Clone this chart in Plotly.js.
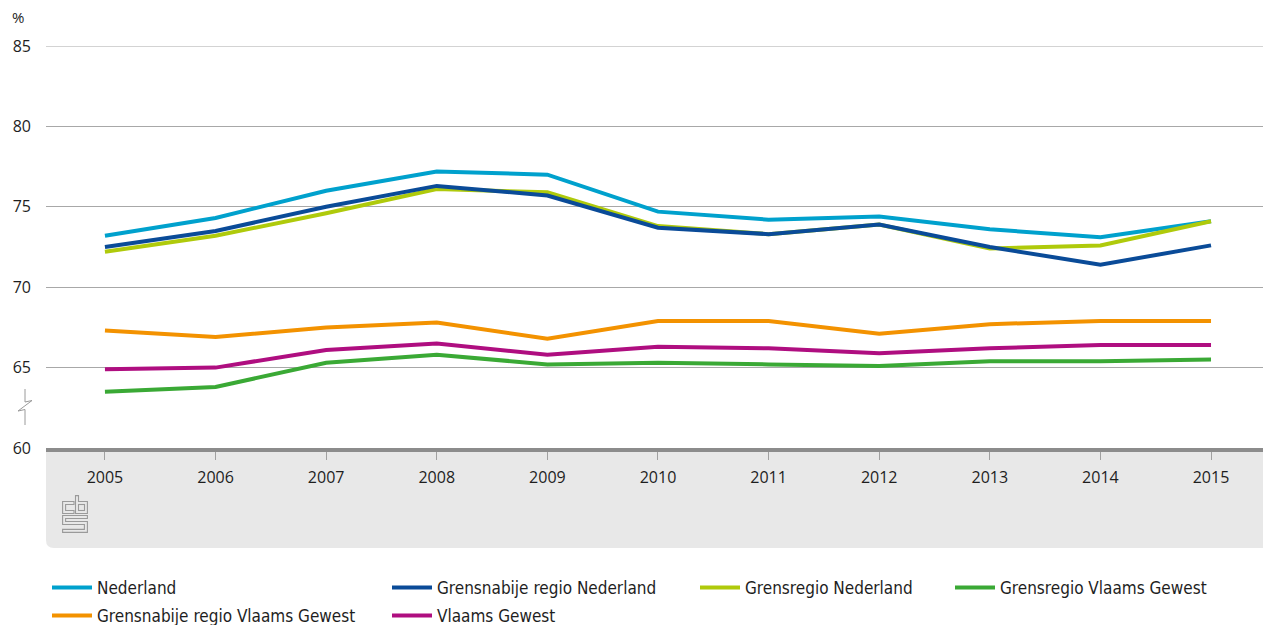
<!DOCTYPE html>
<html>
<head>
<meta charset="utf-8">
<script src="https://cdn.plot.ly/plotly-3.0.1.min.js"></script>
<style>
  html, body { margin: 0; padding: 0; background: #ffffff; }
  #chart { width: 1263px; height: 625px; }
</style>
</head>
<body>
<div id="chart"></div>
<script>
// ---- data ----
const years = [2005, 2006, 2007, 2008, 2009, 2010, 2011, 2012, 2013, 2014, 2015];
const yearLabels = ["2005", "2006", "2007", "2008", "2009", "2010", "2011", "2012", "2013", "2014", "2015"];

const nederland      = [73.2, 74.3, 76.0, 77.2, 77.0, 74.7, 74.2, 74.4, 73.6, 73.1, 74.1];
const grensnabijeNL  = [72.5, 73.5, 75.0, 76.3, 75.7, 73.7, 73.3, 73.9, 72.5, 71.4, 72.6];
const grensregioNL   = [72.2, 73.2, 74.6, 76.1, 75.9, 73.8, 73.3, 73.9, 72.4, 72.6, 74.1];
const grensregioVG   = [63.5, 63.8, 65.3, 65.8, 65.2, 65.3, 65.2, 65.1, 65.4, 65.4, 65.5];
const grensnabijeVG  = [67.3, 66.9, 67.5, 67.8, 66.8, 67.9, 67.9, 67.1, 67.7, 67.9, 67.9];
const vlaamsGewest   = [64.9, 65.0, 66.1, 66.5, 65.8, 66.3, 66.2, 65.9, 66.2, 66.4, 66.4];

const yTicks = [60, 65, 70, 75, 80, 85];
const yTickLabels = ["60", "65", "70", "75", "80", "85"];

// ---- geometry helpers (pixel -> paper) ----
const W = 1263, H = 625;
const M = { l: 46, r: 0, t: 46, b: 177 };
const PW = W - M.l - M.r, PH = H - M.t - M.b;
const px = x => (x - M.l) / PW;
const py = y => (H - M.b - y) / PH;

const legendFont = { family: "'DejaVu Sans Condensed', 'Liberation Sans Narrow', sans-serif", size: 17, color: "#1e1e1e" };
const tickFont = { family: "'Open Sans', 'Liberation Sans', sans-serif", size: 16, color: "#1e1e1e" };

function mk(name, y, color, legendRef) {
  return {
    type: "scatter", mode: "lines", name: name, x: years, y: y,
    line: { color: color, width: 4 }, legend: legendRef, hoverinfo: "x+y+name"
  };
}

const traces = [
  mk("Nederland", nederland, "#00a1cd", "legend"),
  mk("Grensregio Nederland", grensregioNL, "#afca0b", "legend3"),
  mk("Grensnabije regio Nederland", grensnabijeNL, "#0a4b98", "legend2"),
  mk("Grensregio Vlaams Gewest", grensregioVG, "#3aa935", "legend4"),
  mk("Grensnabije regio Vlaams Gewest", grensnabijeVG, "#f39200", "legend5"),
  mk("Vlaams Gewest", vlaamsGewest, "#af0e80", "legend6")
];

function leg(lineStartX, centerY) {
  return {
    x: px(lineStartX - 5), y: py(centerY), xanchor: "left", yanchor: "middle",
    orientation: "v", bgcolor: "rgba(0,0,0,0)", borderwidth: 0,
    font: legendFont, itemwidth: 40, itemclick: false, itemdoubleclick: false
  };
}

const logoSvg =
  "<svg xmlns='http://www.w3.org/2000/svg' viewBox='0 0 26 38'>" +
  "<g fill='none' stroke='#9a9a9a' stroke-width='1.1'>" +
  "<path d='M12 6.5 H0.6 V18.5 H12 V15.5 H3.6 V9.5 H12 Z'/>" +
  "<path d='M13.5 0.6 H16.5 V6.5 H25.4 V18.5 H13.5 Z'/>" +
  "<rect x='16.5' y='9.5' width='6' height='6'/>" +
  "<path d='M0.6 20.5 H25.4 V23.5 H3.6 V26.5 H25.4 V37.4 H0.6 V34.4 H22.4 V29.5 H0.6 Z'/>" +
  "</g></svg>";
const logoSrc = "data:image/svg+xml;charset=utf-8," + encodeURIComponent(logoSvg);

// rounded bottom-left gray panel under the x axis
const boxBottom = py(548);
const rx = 8 / PW, ry = 8 / PH;
const boxPath = `M 0 0 L 1 0 L 1 ${boxBottom} L ${rx} ${boxBottom} Q 0 ${boxBottom} 0 ${boxBottom + ry} Z`;

// axis break symbol
const brk = [[25, 389], [25, 402], [32, 400.5], [18, 411], [25, 409.5], [25, 425]];
const brkPath = "M " + brk.map(p => px(p[0]) + " " + py(p[1])).join(" L ");

const layout = {
  width: W, height: H,
  margin: { l: M.l, r: M.r, t: M.t, b: M.b, pad: 0, autoexpand: false },
  paper_bgcolor: "#ffffff", plot_bgcolor: "#ffffff",
  showlegend: true,
  xaxis: {
    range: [2004.467, 2015.47], tickmode: "array", tickvals: years, ticktext: yearLabels,
    showgrid: false, zeroline: false,
    showline: true, linecolor: "#8c8c8c", linewidth: 4,
    ticks: "outside", ticklen: 8, tickwidth: 1, tickcolor: "#a0a0a0",
    tickfont: tickFont, ticklabelstandoff: 4, fixedrange: true
  },
  yaxis: {
    range: [60, 85], tickmode: "array", tickvals: yTicks, ticktext: yTickLabels,
    showgrid: true, gridcolor: "#a8a8a8", gridwidth: 1, zeroline: false,
    showline: false, ticks: "", tickfont: tickFont, ticklabelstandoff: 14, fixedrange: true
  },
  legend: leg(52, 588),
  legend2: leg(392, 588),
  legend3: leg(700, 588),
  legend4: leg(955, 588),
  legend5: leg(52, 616),
  legend6: leg(392, 616),
  shapes: [
    { type: "path", xref: "paper", yref: "paper", path: boxPath, fillcolor: "#e8e8e8", line: { width: 0 }, layer: "below" },
    { type: "line", xref: "paper", yref: "y", x0: 0, x1: 1, y0: 85, y1: 85, line: { color: "#a8a8a8", width: 1 }, layer: "below" },
    { type: "path", xref: "paper", yref: "paper", path: brkPath, line: { color: "#9a9a9a", width: 1 } }
  ],
  annotations: [
    { xref: "paper", yref: "paper", x: px(10), y: py(17), xanchor: "left", yanchor: "middle",
      text: "%", showarrow: false, font: { family: tickFont.family, size: 15, color: "#1e1e1e" } }
  ],
  images: [
    { source: logoSrc, xref: "paper", yref: "paper", x: px(62), y: py(495),
      sizex: 26 / PW, sizey: 38 / PH, xanchor: "left", yanchor: "top", sizing: "stretch", layer: "above" }
  ]
};

Plotly.newPlot("chart", traces, layout, { displayModeBar: false, staticPlot: true });
</script>
</body>
</html>
